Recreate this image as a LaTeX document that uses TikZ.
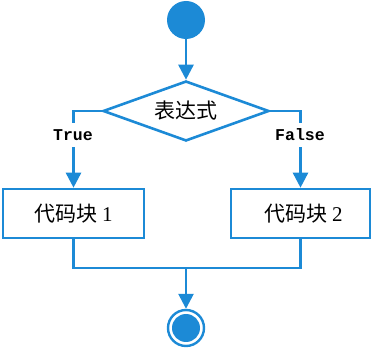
\documentclass[tikz,border=0pt]{standalone}
\usepackage{fontspec}
\newfontfamily\cjk{Noto Sans CJK SC}
\newfontfamily\serifnum{Liberation Serif}
\newfontfamily\monofont{Liberation Mono}
\usetikzlibrary{shapes.geometric,arrows.meta}
\definecolor{fcblue}{RGB}{28,138,214}
\begin{document}
\begin{tikzpicture}[x=1pt,y=-1pt,
  line/.style={draw=fcblue,line width=2.6pt},
  arr/.style={line,-{Triangle[width=15pt,length=15pt]}},
  codebox/.style={draw=fcblue,line width=2.6pt,minimum height=49pt,inner sep=0pt,font=\cjk\fontsize{21}{24}\selectfont},
  tflabel/.style={fill=white,inner xsep=2pt,inner ysep=6pt,font=\monofont\bfseries\fontsize{16.5}{18}\selectfont}
]
\useasboundingbox (0,0) rectangle (373,350);
\node[circle,fill=fcblue,minimum size=38pt,inner sep=0pt] (start) at (186,20) {};
\node[diamond,draw=fcblue,line width=2.6pt,aspect=2.77,minimum width=166pt,minimum height=60pt,inner sep=0pt,font=\cjk\fontsize{21}{24}\selectfont] (cond) at (186,111) {\raisebox{2pt}{表达式}};
\node[codebox,minimum width=141pt] (b1) at (73.5,213.5) {代码块 {\serifnum 1}};
\node[codebox,minimum width=139pt] (b2) at (300.5,213.5) {\hspace*{6pt}代码块 {\serifnum 2}};
\node[circle,draw=fcblue,line width=2.4pt,minimum size=36pt,inner sep=0pt] (end) at (186,328) {};
\node[circle,fill=fcblue,minimum size=28pt,inner sep=0pt] (endin) at (end.center) {};
\coordinate (merge) at (186,268);
\draw[arr] (start) -- (cond.north);
\draw[arr] (cond.west) -| (b1.north);
\draw[arr] (cond.east) -| (b2.north);
\draw[line] (b1.south) |- (merge) -| (b2.south);
\draw[arr] (merge) -- (end.north);
\node[tflabel] (t) at (73,135) {True};
\node[tflabel] (f) at (300,135) {False};
\end{tikzpicture}
\end{document}
